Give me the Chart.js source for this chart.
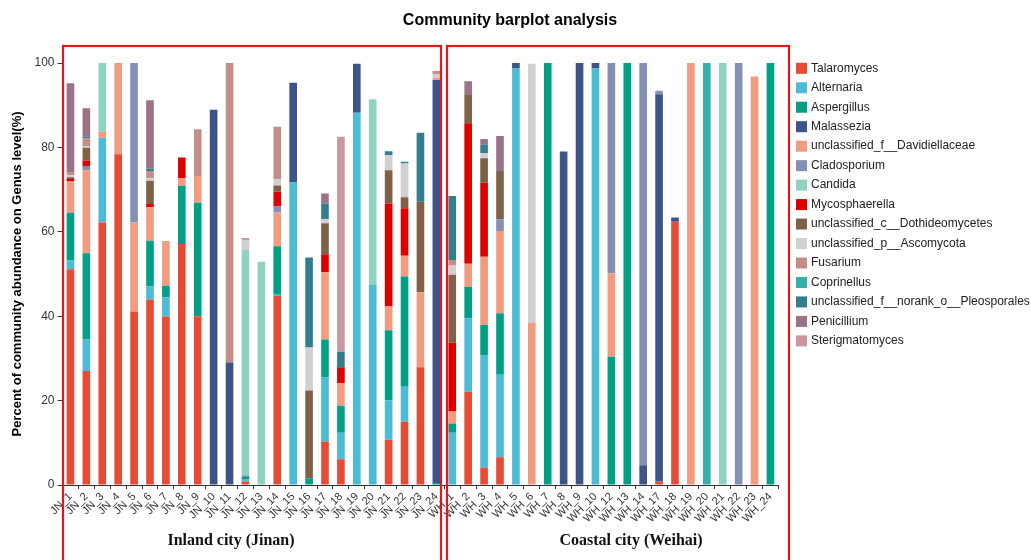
<!DOCTYPE html>
<html>
<head>
<meta charset="utf-8">
<title>Community barplot analysis</title>
<script src="https://cdn.jsdelivr.net/npm/chart.js@4.4.1/dist/chart.umd.min.js"></script>
<style>
  body { margin: 0; background: #fff; }
  #wrap { width: 1031px; height: 560px; position: relative; }
</style>
</head>
<body>
<div id="wrap"><canvas id="myChart"></canvas></div>
<script>
// sample names (JN = Jinan, WH = Weihai)
const samples = [
  "JN_1","JN_2","JN_3","JN_4","JN_5","JN_6","JN_7","JN_8","JN_9","JN_10","JN_11","JN_12",
  "JN_13","JN_14","JN_15","JN_16","JN_17","JN_18","JN_19","JN_20","JN_21","JN_22","JN_23","JN_24",
  "WH_1","WH_2","WH_3","WH_4","WH_5","WH_6","WH_7","WH_8","WH_9","WH_10",
  "WH_12","WH_13","WH_14","WH_17","WH_18","WH_19","WH_20","WH_21","WH_22","WH_23","WH_24"
];

const yTicks = [0, 20, 40, 60, 80, 100];

// relative abundance (%) per genus, one value per sample
const talaromyces     = [51.1,27.0,62.2,78.4,41.1,43.9,39.9,57.1,40.0,0,0,0.8,0,44.8,0,0,10.3,6.1,0,0,10.7,15.0,27.9,0, 0,22.1,4.1,6.6,0,0,0,0,0,0, 0,0,0,0.8,62.4,0,0,0,0,0,0];
const alternaria      = [2.1,7.5,20.1,0,0,3.2,4.6,0,0,0,0,0.6,0,0.3,71.7,0,15.2,6.3,88.2,47.4,9.4,8.3,0,0, 12.4,17.4,26.7,19.5,98.7,0,0,0,0,98.7, 0,0,0,0,0,0,0,0,0,0,0];
const aspergillus     = [11.3,20.4,0,0,0,10.8,2.7,13.8,26.9,0,0,0.5,0,11.5,0,1.6,9.0,6.4,0,0,16.6,26.1,0,0.5, 2.2,7.5,7.1,14.6,0,0,100,0,0,0, 30.4,100,0,0,0,0,0,0,0,0,100];
const malassezia      = [0,0,0,0,0,0,0,0,0,88.9,29.0,0,0,0,23.6,0,0,0,11.6,0,0,0,0,95.5, 0,0,0,0,1.3,0,0,79.0,100,1.3, 0,0,4.7,91.8,1.0,0,0,0,0,0,0];
const davidiellaceae  = [7.4,19.6,1.4,21.6,21.1,7.9,10.6,1.8,6.3,0,0,0,0,8.0,0,0,15.9,5.3,0,0,5.6,4.9,17.8,0.5, 2.8,5.4,16.2,19.5,0,38.5,0,0,0,0, 19.8,0,0,0,0,100,0,0,0,96.8,0];
const cladosporium    = [0,1.1,0,0,37.8,0,0,0,0,0,0,0.4,0,1.4,0,0,0,0,0,0,0,0,0,0, 0,0,0,2.8,0,0,0,0,0,0, 49.8,0,95.3,0.8,0,0,0,0,100,0,0];
const candida         = [0,0,16.3,0,0,0,0,0,0,0,0,53.4,52.9,0,0,0,0,0,0,44.0,0,0,0,0, 0,0,0,0,0,0,0,0,0,0, 0,0,0,0,0,0,0,100,0,0,0];
const mycosphaerella  = [0.6,1.3,0,0,0,0.8,0,4.9,0,0,0,0,0,3.5,0,0,4.3,3.8,0,0,24.4,11.3,0,0, 16.3,33.3,17.6,0,0,0,0,0,0,0, 0,0,0,0,0,0,0,0,0,0,0];
const dothideomycetes = [0.4,3.0,0,0,0,5.5,0,0,0,0,0,0,0,1.5,0,20.8,7.3,0,0,0,7.9,2.6,21.4,0, 16.1,6.7,5.7,11.4,0,0,0,0,0,0, 0,0,0,0,0,0,0,0,0,0,0];
const ascomycota      = [0.5,0.3,0,0,0,0.6,0,0,0,0,0,2.4,0,1.5,0,10.2,1.0,0,0,0,3.6,8.0,0,0.8, 2.2,0,1.2,0,0,61.3,0,0,0,0, 0,0,0,0,0,0,0,0,0,0,0];
const fusarium        = [0.8,1.9,0,0,0,1.7,0,0,11.1,0,71.0,0,0,12.4,0,0,0,0,0,0,0,0,0,0.8, 1.3,0,0,0,0,0,0,0,0,0, 0,0,0,0,0,0,0,0,0,0,0];
const coprinellus     = [0,0,0,0,0,0,0,0,0,0,0,0,0,0,0,0,0,0,0,0,0,0,0,0, 0,0,0,0,0,0,0,0,0,0, 0,0,0,0,0,0,100,0,0,0,0];
const pleosporales    = [0,0.4,0,0,0,0.6,0,0,0,0,0,0,0,0,0,21.3,3.7,3.7,0,0,0.9,0.4,16.4,0, 15.2,0,2.0,0,0,0,0,0,0,0, 0,0,0,0,0,0,0,0,0,0,0];
const penicillium     = [21.0,6.8,0,0,0,16.2,0,0,0,0,0,0.4,0,0,0,0,2.4,0,0,0,0,0,0,0, 0,3.3,1.4,8.3,0,0,0,0,0,0, 0,0,0,0,0,0,0,0,0,0,0];
const sterigmatomyces = [0,0,0,0,0,0,0,0,0,0,0,0,0,0,0,0,0,50.9,0,0,0,0,0,0, 0,0,0,0,0,0,0,0,0,0, 0,0,0,0,0,0,0,0,0,0,0];

const genera = [
  { name: "Talaromyces", data: talaromyces, color: "#E64B35" },
  { name: "Alternaria", data: alternaria, color: "#4DBBD5" },
  { name: "Aspergillus", data: aspergillus, color: "#00A087" },
  { name: "Malassezia", data: malassezia, color: "#3C5488" },
  { name: "unclassified_f__Davidiellaceae", data: davidiellaceae, color: "#F39B7F" },
  { name: "Cladosporium", data: cladosporium, color: "#8491B4" },
  { name: "Candida", data: candida, color: "#91D1C2" },
  { name: "Mycosphaerella", data: mycosphaerella, color: "#DC0000" },
  { name: "unclassified_c__Dothideomycetes", data: dothideomycetes, color: "#7E6148" },
  { name: "unclassified_p__Ascomycota", data: ascomycota, color: "#D0D0D3" },
  { name: "Fusarium", data: fusarium, color: "#C38E86" },
  { name: "Coprinellus", data: coprinellus, color: "#35B0AB" },
  { name: "unclassified_f__norank_o__Pleosporales", data: pleosporales, color: "#347D8B" },
  { name: "Penicillium", data: penicillium, color: "#9A7388" },
  { name: "Sterigmatomyces", data: sterigmatomyces, color: "#C9979F" }
];

// title, group boxes and legend are drawn on top of the chart
const decorations = {
  id: "decorations",
  afterDraw(chart) {
    const ctx = chart.ctx;
    ctx.save();

    ctx.fillStyle = "#000";
    ctx.font = "bold 16px Arial, 'Liberation Sans', sans-serif";
    ctx.textAlign = "center";
    ctx.textBaseline = "middle";
    ctx.fillText("Community barplot analysis", 510, 21);

    // red group boxes
    ctx.strokeStyle = "#E3161D";
    ctx.lineWidth = 2.2;
    ctx.strokeRect(63, 46, 378, 520);
    ctx.strokeRect(447, 46, 342, 520);

    ctx.font = "bold 16px 'Liberation Serif', 'Times New Roman', serif";
    ctx.fillStyle = "#111";
    ctx.fillText("Inland city (Jinan)", 231, 541);
    ctx.fillText("Coastal city (Weihai)", 631, 541);

    // legend
    ctx.font = "12px Arial, 'Liberation Sans', sans-serif";
    ctx.textAlign = "left";
    genera.forEach((g, i) => {
      const y = 68.3 + i * 19.47;
      ctx.fillStyle = g.color;
      ctx.fillRect(796, y - 5.5, 11, 11);
      ctx.fillStyle = "#222";
      ctx.fillText(g.name, 811, y);
    });

    ctx.restore();
  }
};

const ctx = document.getElementById("myChart").getContext("2d");
new Chart(ctx, {
  type: "bar",
  data: {
    labels: samples,
    datasets: genera.map(g => ({
      label: g.name,
      data: g.data,
      backgroundColor: g.color,
      borderWidth: 0,
      barPercentage: 0.48,
      categoryPercentage: 1.0
    }))
  },
  options: {
    responsive: true,
    maintainAspectRatio: false,
    animation: false,
    layout: { padding: { top: 63, right: 252.6, bottom: 0, left: 0 } },
    plugins: {
      legend: { display: false },
      title: { display: false },
      tooltip: { enabled: false }
    },
    scales: {
      x: {
        stacked: true,
        afterFit: scale => { scale.height = 75; },
        grid: { drawOnChartArea: false, drawTicks: true, tickLength: 4, color: "#333" },
        border: { display: true, color: "#333", width: 1 },
        ticks: {
          autoSkip: false,
          minRotation: 45,
          maxRotation: 45,
          padding: 1,
          color: "#333",
          font: { family: "Arial, 'Liberation Sans', sans-serif", size: 11 }
        }
      },
      y: {
        stacked: true,
        min: 0,
        max: 100,
        afterFit: scale => { scale.width = 62.5; },
        afterBuildTicks: scale => { scale.ticks = yTicks.map(v => ({ value: v })); },
        grid: { drawOnChartArea: false, drawTicks: true, tickLength: 5, color: "#333" },
        border: { display: true, color: "#333", width: 1 },
        ticks: {
          padding: 3,
          color: "#333",
          font: { family: "Arial, 'Liberation Sans', sans-serif", size: 12 }
        },
        title: {
          display: true,
          text: "Percent of community abundance on Genus level(%)",
          color: "#000",
          padding: { top: 10, bottom: 0 },
          font: { family: "Arial, 'Liberation Sans', sans-serif", size: 13, weight: "bold" }
        }
      }
    }
  },
  plugins: [decorations]
});
</script>
</body>
</html>
